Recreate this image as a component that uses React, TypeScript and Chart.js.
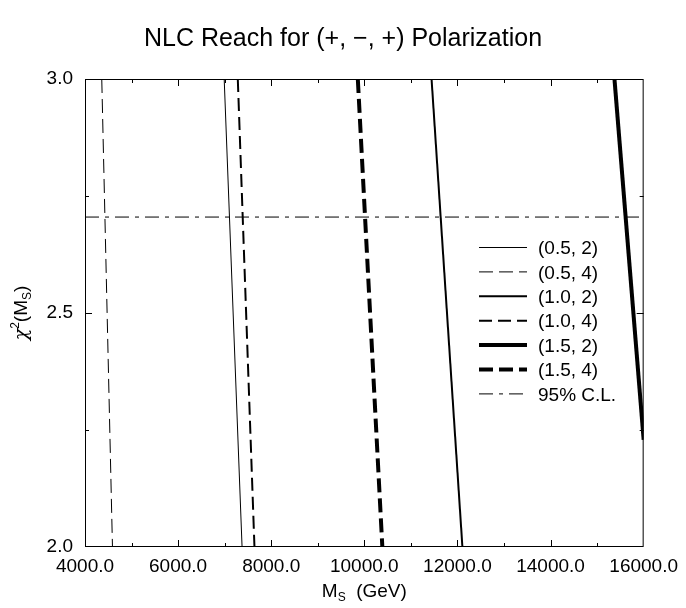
import React, { useEffect, useRef } from "react";
import { Chart, registerables } from "chart.js";

Chart.register(...registerables);

// ---- data ----
const chiEnds = [3.0, 2.0];
const chiEnds15_2 = [3.0, 2.229];
const reach05_2 = [6990, 7374];
const reach05_4 = [4360, 4590];
const reach10_2 = [11444, 12107];
const reach10_4 = [7282, 7640];
const reach15_2 = [15373, 16000];
const reach15_4 = [9860, 10387];
const clLevel = 2.705;
const clX = [4000, 16000];

const seriesLabels = ["(0.5, 2)", "(0.5, 4)", "(1.0, 2)", "(1.0, 4)", "(1.5, 2)", "(1.5, 4)", "95% C.L."];
const xMin = 4000;
const xMax = 16000;
const yMin = 2.0;
const yMax = 3.0;

const FONT = '"Liberation Sans", Arial, sans-serif';

function pts(xs: number[], ys: number[]) {
  return xs.map((x, i) => ({ x, y: ys[i] }));
}

const decorPlugin = {
  id: "decor",
  afterDraw(chart: any) {
    const ctx = chart.ctx;
    const { left, right, top, bottom } = chart.chartArea;
    const xs = chart.scales.x;
    const ys = chart.scales.y;
    ctx.save();
    // frame
    ctx.strokeStyle = "#000";
    ctx.lineWidth = 1;
    ctx.setLineDash([]);
    ctx.strokeRect(left + 0.5, top + 0.5, right - left - 1, bottom - top - 1);
    // x ticks (inward, top & bottom)
    ctx.beginPath();
    for (let v = xMin + 1000; v < xMax; v += 1000) {
      const px = Math.round(xs.getPixelForValue(v)) + 0.5;
      const len = v % 2000 === 0 ? 7 : 4;
      ctx.moveTo(px, bottom);
      ctx.lineTo(px, bottom - len);
      ctx.moveTo(px, top);
      ctx.lineTo(px, top + len);
    }
    // y ticks (inward, left & right)
    for (let v = yMin + 0.25; v < yMax - 0.01; v += 0.25) {
      const py = Math.round(ys.getPixelForValue(v)) + 0.5;
      const len = Math.abs(v - 2.5) < 0.01 ? 7 : 4;
      ctx.moveTo(left, py);
      ctx.lineTo(left + len, py);
      ctx.moveTo(right, py);
      ctx.lineTo(right - len, py);
    }
    ctx.stroke();

    ctx.fillStyle = "#000";
    // title
    ctx.font = "25px " + FONT;
    ctx.textAlign = "center";
    ctx.textBaseline = "alphabetic";
    ctx.fillText("NLC Reach for (+, \u2212, +) Polarization", 343, 46);

    // x axis title: M_S  (GeV)
    ctx.textAlign = "left";
    const big = "19px " + FONT;
    const small = "12px " + FONT;
    ctx.font = big;
    const wM = ctx.measureText("M").width;
    const wRest = ctx.measureText("  (GeV)").width;
    ctx.font = small;
    const wS = ctx.measureText("S").width;
    const total = wM + wS + wRest;
    let x0 = (left + right) / 2 - total / 2;
    const by = 597;
    ctx.font = big;
    ctx.fillText("M", x0, by);
    ctx.font = small;
    ctx.fillText("S", x0 + wM, by + 4);
    ctx.font = big;
    ctx.fillText("  (GeV)", x0 + wM + wS, by);

    // y axis title: chi^2(M_S)
    ctx.save();
    ctx.translate(27, (top + bottom) / 2);
    ctx.rotate(-Math.PI / 2);
    const chiFont = "italic 19px \"DejaVu Serif\", serif";
    ctx.font = chiFont;
    const wChi = ctx.measureText("\u03c7").width;
    ctx.font = small;
    const w2 = ctx.measureText("2").width;
    ctx.font = big;
    const wOpen = ctx.measureText("(M").width;
    const wClose = ctx.measureText(")").width;
    const tot2 = wChi + w2 + wOpen + wS + wClose;
    let cx = -tot2 / 2;
    ctx.font = chiFont;
    ctx.fillText("\u03c7", cx, 0);
    cx += wChi;
    ctx.font = small;
    ctx.fillText("2", cx, -8);
    cx += w2;
    ctx.font = big;
    ctx.fillText("(M", cx, 0);
    cx += wOpen;
    ctx.font = small;
    ctx.fillText("S", cx, 4);
    cx += wS;
    ctx.font = big;
    ctx.fillText(")", cx, 0);
    ctx.restore();

    // legend
    const ds = chart.data.datasets;
    ctx.font = "19px " + FONT;
    ctx.textBaseline = "middle";
    for (let i = 0; i < ds.length; i++) {
      const d = ds[i];
      const y = 247.5 + i * 24.4;
      ctx.beginPath();
      ctx.strokeStyle = d.borderColor;
      ctx.lineWidth = d.borderWidth;
      ctx.setLineDash(d.borderDash || []);
      ctx.moveTo(479, y);
      ctx.lineTo(527, y);
      ctx.stroke();
      ctx.setLineDash([]);
      ctx.fillStyle = "#000";
      ctx.fillText(d.label, 538, y + 1.5);
    }
    ctx.restore();
  },
};

export default function App() {
  const ref = useRef<HTMLCanvasElement | null>(null);
  useEffect(() => {
    if (!ref.current) return;
    const common = { pointRadius: 0, fill: false, tension: 0 };
    const chart = new Chart(ref.current, {
      type: "line",
      data: {
        datasets: [
          { ...common, label: seriesLabels[0], data: pts(reach05_2, chiEnds), borderColor: "#000", borderWidth: 1, borderDash: [] },
          { ...common, label: seriesLabels[1], data: pts(reach05_4, chiEnds), borderColor: "#000", borderWidth: 1, borderDash: [14, 6] },
          { ...common, label: seriesLabels[2], data: pts(reach10_2, chiEnds), borderColor: "#000", borderWidth: 2, borderDash: [] },
          { ...common, label: seriesLabels[3], data: pts(reach10_4, chiEnds), borderColor: "#000", borderWidth: 2, borderDash: [13, 6] },
          { ...common, label: seriesLabels[4], data: pts(reach15_2, chiEnds15_2), borderColor: "#000", borderWidth: 4, borderDash: [] },
          { ...common, label: seriesLabels[5], data: pts(reach15_4, chiEnds), borderColor: "#000", borderWidth: 4, borderDash: [14, 6] },
          { ...common, label: seriesLabels[6], data: pts(clX, [clLevel, clLevel]), borderColor: "#000", borderWidth: 1, borderDash: [14, 6, 4, 6] },
        ],
      },
      options: {
        responsive: false,
        animation: false,
        devicePixelRatio: 1,
        layout: { padding: { top: 79, right: 38, bottom: 0, left: 0 } },
        plugins: { legend: { display: false }, tooltip: { enabled: false }, title: { display: false } },
        scales: {
          x: {
            type: "linear",
            min: xMin,
            max: xMax,
            grid: { display: false, drawTicks: false },
            border: { display: false },
            ticks: {
              stepSize: 2000,
              padding: 8,
              color: "#000",
              font: { family: FONT, size: 19 },
              maxRotation: 0,
              callback: (v: any) => Number(v).toFixed(1),
            },
            afterFit: (s: any) => { s.height = 61; },
          },
          y: {
            type: "linear",
            min: yMin,
            max: yMax,
            grid: { display: false, drawTicks: false },
            border: { display: false },
            ticks: {
              stepSize: 0.5,
              padding: 12,
              color: "#000",
              font: { family: FONT, size: 19 },
              callback: (v: any) => Number(v).toFixed(1),
            },
            afterFit: (s: any) => { s.width = 85; },
          },
        },
      },
      plugins: [decorPlugin],
    });
    return () => chart.destroy();
  }, []);
  return (
    <div style={{ position: "fixed", left: 0, top: 0, width: 686, height: 608, background: "#fff" }}>
      <canvas ref={ref} width={686} height={608} style={{ display: "block" }} />
    </div>
  );
}
